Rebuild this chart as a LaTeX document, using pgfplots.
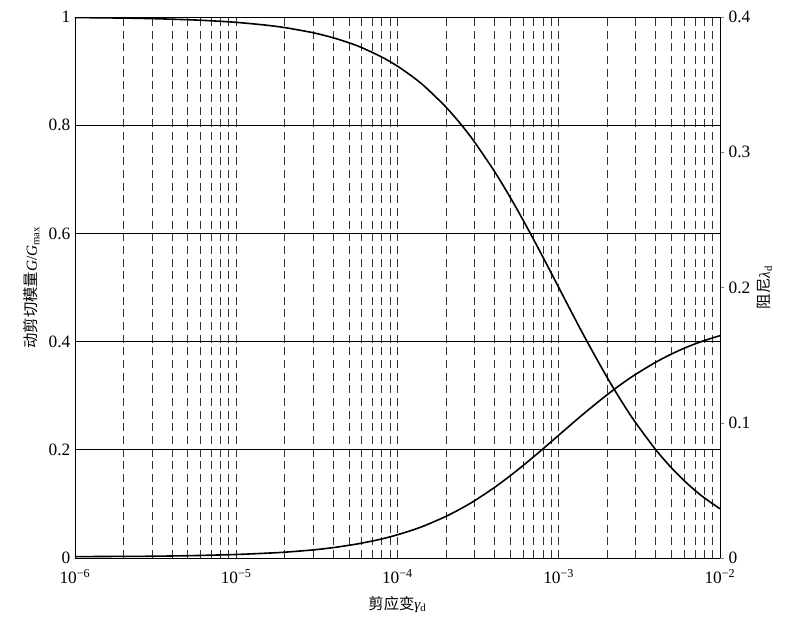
\documentclass[border=0pt]{standalone}
\usepackage{fontspec}
\setmainfont{Liberation Serif}
\newfontfamily\cjk{Noto Sans CJK SC}
\usepackage{pgfplots}
\pgfplotsset{compat=1.18}

% G/Gmax and damping ratio
\pgfplotstableread{
gamma    G       D
1e-6     0.9990  0.0010
2e-6     0.9980  0.0012
3e-6     0.9970  0.0013
5e-6     0.9950  0.0017
7e-6     0.9930  0.0021
1e-5     0.9901  0.0026
1.5e-5   0.9852  0.0035
2e-5     0.9804  0.0043
3e-5     0.9709  0.0060
4e-5     0.9615  0.0077
5e-5     0.9524  0.0094
6e-5     0.9434  0.0110
8e-5     0.9259  0.0141
1e-4     0.9091  0.0172
1.25e-4  0.8889  0.0208
1.5e-4   0.8696  0.0243
2e-4     0.8333  0.0308
2.5e-4   0.8000  0.0368
3e-4     0.7692  0.0423
4e-4     0.7143  0.0522
5e-4     0.6667  0.0608
6e-4     0.6250  0.0683
7e-4     0.5882  0.0749
8e-4     0.5556  0.0808
1e-3     0.5000  0.0908
1.25e-3  0.4444  0.1008
1.5e-3   0.4000  0.1088
2e-3     0.3333  0.1208
2.5e-3   0.2857  0.1294
3e-3     0.2500  0.1358
4e-3     0.2000  0.1448
5e-3     0.1667  0.1508
6e-3     0.1429  0.1551
7e-3     0.1250  0.1583
8e-3     0.1111  0.1608
1e-2     0.0909  0.1644
}\datatable

\begin{document}
\begin{tikzpicture}
  \begin{axis}[
      name=ax,
      width=483.75pt, height=405.75pt, scale only axis,
      xmode=log, xmin=1e-6, xmax=1e-2,
      ymin=0, ymax=1,
      tick label style={font=\fontsize{13}{15}\selectfont},
      label style={font=\fontsize{11.5}{14}\selectfont},
      /pgf/number format/assume math mode=true,
      axis line style={black, line width=0.7pt},
      ytick={0,0.2,0.4,0.6,0.8,1},
      yticklabels={0,0.2,0.4,0.6,0.8,1},
      xtick={1e-6,1e-5,1e-4,1e-3,1e-2},
      xticklabels={10\textsuperscript{−6},10\textsuperscript{−5},10\textsuperscript{−4},10\textsuperscript{−3},10\textsuperscript{−2}},
      minor xtick={2e-6,3e-6,4e-6,5e-6,6e-6,7e-6,8e-6,9e-6,
                   2e-5,3e-5,4e-5,5e-5,6e-5,7e-5,8e-5,9e-5,
                   2e-4,3e-4,4e-4,5e-4,6e-4,7e-4,8e-4,9e-4,
                   2e-3,3e-3,4e-3,5e-3,6e-3,7e-3,8e-3,9e-3},
      xmajorgrids, xminorgrids, ymajorgrids,
      every axis x grid/.style={black!80, dash pattern=on 6pt off 3.5pt, line width=0.6pt},
      every axis y grid/.style={black, line width=0.7pt},
      major tick length=0pt, minor tick length=0pt,
      axis y line*=left,
      xlabel={{\cjk 剪应变}{\itshape γ}\textsubscript{d}},
      ylabel={{\cjk 动剪切模量}{\itshape G}/{\itshape G}\textsubscript{max}},
      xlabel style={yshift=-3pt},
      ylabel style={yshift=0pt},
      xticklabel style={yshift=-5pt},
    ]
    \addplot[black, line width=1.2pt, smooth] table[x=gamma, y=G] {\datatable};
  \end{axis}
  \begin{axis}[
      width=483.75pt, height=405.75pt, scale only axis,
      xmode=log, xmin=1e-6, xmax=1e-2,
      ymin=0, ymax=0.4,
      tick label style={font=\fontsize{13}{15}\selectfont},
      label style={font=\fontsize{11.5}{14}\selectfont},
      /pgf/number format/assume math mode=true,
      axis line style={black, line width=0.7pt},
      ytick={0,0.1,0.2,0.3,0.4},
      yticklabels={0,0.1,0.2,0.3,0.4},
      axis y line*=right, axis x line*=top,
      xtick=\empty, minor xtick={},
      major tick length=3pt, tick align=outside,
      ylabel={{\cjk 阻尼}{\itshape λ}\textsubscript{d}},
      ylabel style={yshift=1.5pt},
    ]
    \addplot[black, line width=1.2pt, smooth] table[x=gamma, y=D] {\datatable};
  \end{axis}
  \pgfresetboundingbox
  \path ([shift={(-56.25pt,-51pt)}]ax.south west) rectangle ([shift={(67.5pt,12.75pt)}]ax.north east);
\end{tikzpicture}
\end{document}
